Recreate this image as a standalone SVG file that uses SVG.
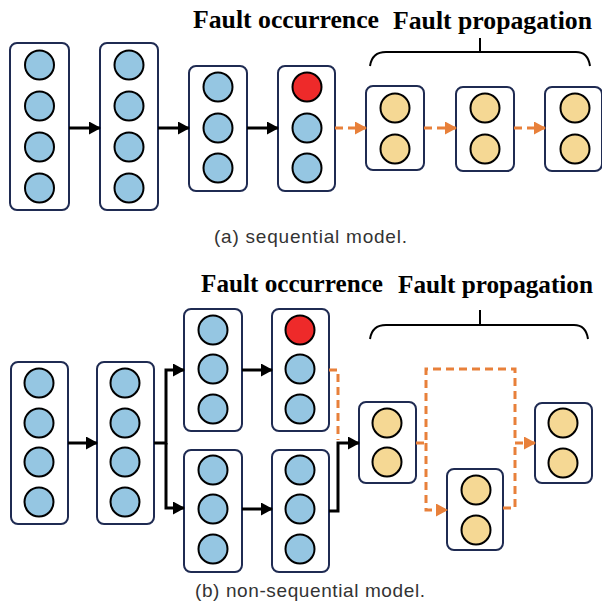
<svg xmlns="http://www.w3.org/2000/svg" width="602" height="607" viewBox="0 0 602 607">
  <defs>
    <style>
      .box { fill: #ffffff; stroke: #1f2b52; stroke-width: 2; }
      .blue { fill: #95c6e2; stroke: #000; stroke-width: 2; }
      .yel { fill: #f5d894; stroke: #000; stroke-width: 2; }
      .red { fill: #ee2a2a; stroke: #000; stroke-width: 2; }
      .blk { fill: none; stroke: #000; stroke-width: 3; }
      .org { fill: none; stroke: #e8803a; stroke-width: 3; stroke-dasharray: 8 5; }
      .brace { fill: none; stroke: #000; stroke-width: 2; }
      .title { font-family: "Liberation Serif", "Times New Roman", serif; font-weight: bold; font-size: 25px; fill: #000; }
      .cap { font-family: "Liberation Sans", Arial, sans-serif; font-size: 19px; fill: #333; }
    </style>
    <marker id="ak" markerUnits="userSpaceOnUse" markerWidth="12" markerHeight="13" refX="11" refY="6.5" orient="auto">
      <path d="M0,0 L12,6.5 L0,13 Z" fill="#000"/>
    </marker>
    <marker id="ao" markerUnits="userSpaceOnUse" markerWidth="12" markerHeight="13" refX="11" refY="6.5" orient="auto">
      <path d="M0,0 L12,6.5 L0,13 Z" fill="#e8803a"/>
    </marker>
  </defs>
  <rect width="602" height="607" fill="#fff"/>

  <!-- (a) sequential model -->
  <text class="title" x="193" y="28" textLength="186" lengthAdjust="spacingAndGlyphs">Fault occurrence</text>
  <text class="title" x="393" y="29" textLength="199" lengthAdjust="spacingAndGlyphs">Fault propagation</text>
  <path class="brace" d="M370,66 Q372,52 386,52 H576 Q588,52 590,66 M480,38 V52"/>

  <g id="a1"><rect class="box" x="10" y="43" width="59" height="167" rx="7"/>
    <circle class="blue" cx="39.5" cy="65" r="14.5"/><circle class="blue" cx="39.5" cy="106" r="14.5"/>
    <circle class="blue" cx="39.5" cy="147" r="14.5"/><circle class="blue" cx="39.5" cy="188" r="14.5"/></g>
  <g id="a2"><rect class="box" x="100" y="43" width="58" height="167" rx="7"/>
    <circle class="blue" cx="129" cy="65" r="14.5"/><circle class="blue" cx="129" cy="106" r="14.5"/>
    <circle class="blue" cx="129" cy="147" r="14.5"/><circle class="blue" cx="129" cy="188" r="14.5"/></g>
  <g id="a3"><rect class="box" x="189" y="66" width="58" height="125" rx="7"/>
    <circle class="blue" cx="218" cy="87" r="14.5"/><circle class="blue" cx="218" cy="128" r="14.5"/>
    <circle class="blue" cx="218" cy="168" r="14.5"/></g>
  <g id="a4"><rect class="box" x="278" y="66" width="57" height="125" rx="7"/>
    <circle class="red" cx="307" cy="87" r="14.5"/><circle class="blue" cx="307" cy="128" r="14.5"/>
    <circle class="blue" cx="307" cy="168" r="14.5"/></g>
  <g id="a5"><rect class="box" x="366" y="86" width="58" height="84" rx="7"/>
    <circle class="yel" cx="395" cy="108" r="14.5"/><circle class="yel" cx="395" cy="149" r="14.5"/></g>
  <g id="a6"><rect class="box" x="456" y="87" width="58" height="84" rx="7"/>
    <circle class="yel" cx="485" cy="108" r="14.5"/><circle class="yel" cx="485" cy="149" r="14.5"/></g>
  <g id="a7"><rect class="box" x="545" y="87" width="57" height="84" rx="7"/>
    <circle class="yel" cx="575" cy="108" r="14.5"/><circle class="yel" cx="575" cy="149" r="14.5"/></g>

  <g id="a-connectors">
    <path class="blk" d="M69,128 H100" marker-end="url(#ak)"/>
    <path class="blk" d="M158,128 H189" marker-end="url(#ak)"/>
    <path class="blk" d="M247,128 H278" marker-end="url(#ak)"/>
    <path class="org" d="M335,128 H366" marker-end="url(#ao)"/>
    <path class="org" d="M424,128 H456" marker-end="url(#ao)"/>
    <path class="org" d="M514,128 H545" marker-end="url(#ao)"/>
  </g>
  <text class="cap" x="214" y="243" textLength="193" lengthAdjust="spacing">(a)  sequential  model.</text>

  <!-- (b) non-sequential model -->
  <text class="title" x="201" y="292" textLength="182" lengthAdjust="spacingAndGlyphs">Fault occurrence</text>
  <text class="title" x="398" y="293" textLength="195" lengthAdjust="spacingAndGlyphs">Fault propagation</text>
  <path class="brace" d="M370,339 Q372,325 386,325 H574 Q586,325 588,339 M480,310 V325"/>

  <g id="b1"><rect class="box" x="11" y="362" width="57" height="162" rx="7"/>
    <circle class="blue" cx="39" cy="383" r="14.5"/><circle class="blue" cx="39" cy="423" r="14.5"/>
    <circle class="blue" cx="39" cy="462" r="14.5"/><circle class="blue" cx="39" cy="502" r="14.5"/></g>
  <g id="b2"><rect class="box" x="97" y="362" width="57" height="162" rx="7"/>
    <circle class="blue" cx="125" cy="383" r="14.5"/><circle class="blue" cx="125" cy="423" r="14.5"/>
    <circle class="blue" cx="125" cy="462" r="14.5"/><circle class="blue" cx="125" cy="502" r="14.5"/></g>
  <g id="b3"><rect class="box" x="184" y="309" width="58" height="122" rx="7"/>
    <circle class="blue" cx="213" cy="330" r="14.5"/><circle class="blue" cx="213" cy="369" r="14.5"/>
    <circle class="blue" cx="213" cy="409" r="14.5"/></g>
  <g id="b4"><rect class="box" x="184" y="450" width="58" height="122" rx="7"/>
    <circle class="blue" cx="213" cy="470" r="14.5"/><circle class="blue" cx="213" cy="509" r="14.5"/>
    <circle class="blue" cx="213" cy="549" r="14.5"/></g>
  <g id="b5"><rect class="box" x="272" y="309" width="57" height="122" rx="7"/>
    <circle class="red" cx="300" cy="330" r="14.5"/><circle class="blue" cx="300" cy="369" r="14.5"/>
    <circle class="blue" cx="300" cy="409" r="14.5"/></g>
  <g id="b6"><rect class="box" x="272" y="450" width="57" height="122" rx="7"/>
    <circle class="blue" cx="300" cy="470" r="14.5"/><circle class="blue" cx="300" cy="509" r="14.5"/>
    <circle class="blue" cx="300" cy="549" r="14.5"/></g>
  <g id="b7"><rect class="box" x="359" y="402" width="57" height="81" rx="7"/>
    <circle class="yel" cx="387" cy="423" r="14.5"/><circle class="yel" cx="387" cy="462" r="14.5"/></g>
  <g id="b8"><rect class="box" x="447" y="469" width="56" height="81" rx="7"/>
    <circle class="yel" cx="476" cy="490" r="14.5"/><circle class="yel" cx="476" cy="530" r="14.5"/></g>
  <g id="b9"><rect class="box" x="535" y="403" width="57" height="80" rx="7"/>
    <circle class="yel" cx="563" cy="423" r="14.5"/><circle class="yel" cx="563" cy="463" r="14.5"/></g>

  <g id="b-connectors">
    <path class="blk" d="M68,443 H97" marker-end="url(#ak)"/>
    <path class="blk" d="M154,443 H166 V370 H184" marker-end="url(#ak)"/>
    <path class="blk" d="M166,443 V508 H184" marker-end="url(#ak)"/>
    <path class="blk" d="M242,370 H272" marker-end="url(#ak)"/>
    <path class="blk" d="M242,509 H272" marker-end="url(#ak)"/>
    <path class="blk" d="M329,511 H338 V443 H359" marker-end="url(#ak)"/>
    <path class="org" d="M329,370 H338 V440"/>
    <path class="org" d="M416,443 H426 V369 H515 V443 H535" marker-end="url(#ao)"/>
    <path class="org" d="M426,443 V510 H447" marker-end="url(#ao)"/>
    <path class="org" d="M503,508 H515 V443"/>
  </g>
  <text class="cap" x="195" y="597" textLength="230" lengthAdjust="spacing">(b)  non-sequential  model.</text>
</svg>
